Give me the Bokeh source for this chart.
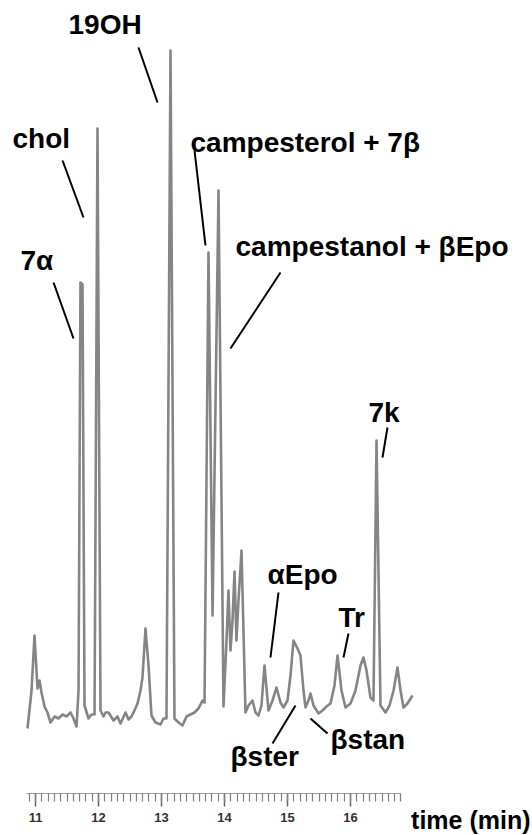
from bokeh.plotting import figure
from bokeh.models import Range1d, FixedTicker, ColumnDataSource, Title
from bokeh.core.properties import value
from bokeh.embed import file_html
from bokeh.resources import INLINE

# Chromatogram trace: retention time (min) and detector response (arb. units)
time_min = [10.873, 10.937, 10.984, 11.032, 11.063, 11.095, 11.143, 11.190, 11.238, 11.302,
            11.365, 11.429, 11.492, 11.556, 11.603, 11.651, 11.683, 11.714, 11.746, 11.778,
            11.841, 11.889, 11.937, 11.984, 12.032, 12.079, 12.111, 12.159, 12.238, 12.302,
            12.349, 12.429, 12.476, 12.524, 12.571, 12.619, 12.667, 12.698, 12.746, 12.794,
            12.841, 12.905, 12.984, 13.032, 13.079, 13.143, 13.206, 13.270, 13.333, 13.397,
            13.460, 13.524, 13.587, 13.651, 13.683, 13.746, 13.810, 13.905, 13.984, 14.032,
            14.063, 14.095, 14.127, 14.159, 14.190, 14.222, 14.270, 14.333, 14.381, 14.444,
            14.492, 14.540, 14.587, 14.635, 14.698, 14.762, 14.825, 14.889, 14.937, 15.000,
            15.048, 15.095, 15.159, 15.206, 15.254, 15.286, 15.333, 15.365, 15.413, 15.492,
            15.556, 15.619, 15.683, 15.746, 15.794, 15.857, 15.921, 16.000, 16.079, 16.159,
            16.206, 16.254, 16.317, 16.365, 16.413, 16.476, 16.556, 16.619, 16.683, 16.746,
            16.794, 16.841, 16.905, 16.984]
response = [2, 40, 95, 42, 50, 38, 24, 18, 8, 14,
            12, 16, 14, 18, 12, 4, 40, 448, 446, 25,
            12, 16, 16, 602, 20, 14, 18, 18, 10, 14,
            7, 18, 11, 14, 20, 27, 40, 53, 102, 65,
            15, 8, 6, 12, 12, 680, 12, 8, 5, 14,
            16, 18, 22, 30, 28, 478, 115, 540, 24, 90,
            140, 80, 110, 159, 90, 130, 180, 18, 25, 30,
            18, 15, 25, 65, 20, 30, 43, 28, 23, 30,
            55, 90, 82, 75, 40, 23, 30, 37, 25, 17,
            20, 24, 27, 45, 75, 40, 23, 27, 40, 65,
            73, 60, 33, 30, 290, 25, 18, 25, 40, 63,
            40, 23, 27, 35]

# Peak labels
peak_names = ["19OH", "chol", "7\u03b1", "campesterol + 7\u03b2", "campestanol + \u03b2Epo",
              "\u03b1Epo", "Tr", "7k", "\u03b2ster", "\u03b2stan"]
label_t = [11.524, 10.635, 10.762, 13.460, 14.175, 14.683, 15.810, 16.286, 14.095, 15.683]
label_r = [706, 592, 470, 588, 484, 156, 113, 318, -26, -9]
# Leader lines (from label to peak)
lead_t0 = [12.635, 11.429, 11.286, 13.524, 14.889, 14.857, 15.968, 16.587, 14.762, 15.365]
lead_r0 = [683, 570, 448, 580, 458, 138, 97, 303, -13, 12]
lead_t1 = [12.937, 11.762, 11.603, 13.698, 14.095, 14.730, 15.889, 16.508, 15.127, 15.635]
lead_r1 = [628, 513, 392, 485, 382, 73, 73, 273, 25, -3]

major_ticks = [11, 12, 13, 14, 15, 16]
minor_ticks = [round(10.9 + 0.1 * i, 1) for i in range(60)]
axis_title = "time (min)"

p = figure(frame_width=516, frame_height=785,
           x_range=Range1d(10.5714, 18.7619), y_range=Range1d(-63, 722),
           output_backend="svg", toolbar_location=None, y_axis_location=None,
           min_border_left=8, min_border_top=8, min_border_right=8, min_border_bottom=42,
           outline_line_color=None, background_fill_color="white")
p.grid.visible = False

p.line(time_min, response, line_color="#858585", line_width=2.6, line_join="round")

p.segment(x0=lead_t0, y0=lead_r0, x1=lead_t1, y1=lead_r1, line_color="black", line_width=2)

src = ColumnDataSource(dict(x=label_t, y=label_r, text=peak_names))
p.text(x="x", y="y", text="text", source=src, text_font=value("Liberation Sans"),
       text_font_style="bold", text_font_size="28px", text_baseline="middle",
       text_align="left", text_color="black")

ax = p.xaxis[0]
ax.ticker = FixedTicker(ticks=major_ticks, minor_ticks=minor_ticks)
ax.bounds = (10.85, 16.8)
ax.axis_line_color = "#a0a0a0"
ax.axis_line_width = 1.2
ax.major_tick_line_color = "#666666"
ax.minor_tick_line_color = "#808080"
ax.major_tick_line_width = 1.5
ax.minor_tick_line_width = 1.2
ax.major_tick_out = 13
ax.major_tick_in = 0
ax.minor_tick_out = 8
ax.minor_tick_in = 0
ax.major_label_standoff = 6
ax.major_label_text_font = "Liberation Sans"
ax.major_label_text_font_style = "bold"
ax.major_label_text_font_size = "13px"
ax.major_label_text_color = "#333333"

p.add_layout(Title(text=axis_title, align="right", vertical_align="top", standoff=-38, offset=-6,
                   text_font="Liberation Sans", text_font_style="bold", text_font_size="25px",
                   text_color="black"), "below")

open("out.html", "w").write(file_html(p, INLINE))
